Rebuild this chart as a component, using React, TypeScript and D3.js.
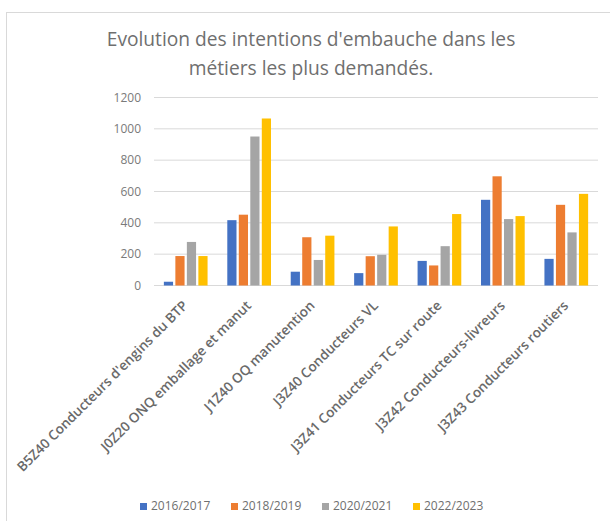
import React from "react";
import * as d3 from "d3";

const categories = [
  "B5Z40 Conducteurs d'engins du BTP",
  "J0Z20 ONQ emballage et manut",
  "J1Z40 OQ manutention",
  "J3Z40 Conducteurs VL",
  "J3Z41 Conducteurs TC sur route",
  "J3Z42 Conducteurs-livreurs",
  "J3Z43 Conducteurs routiers",
];
const seriesNames = ["2016/2017", "2018/2019", "2020/2021", "2022/2023"];
const s2016 = [24, 417, 88, 79, 157, 547, 170];
const s2018 = [188, 452, 308, 187, 128, 697, 515];
const s2020 = [278, 951, 163, 196, 251, 424, 339];
const s2022 = [188, 1066, 318, 377, 456, 443, 585];
const seriesValues = [s2016, s2018, s2020, s2022];
const yTicks = [0, 200, 400, 600, 800, 1000, 1200];
const colors = ["#4472C4", "#ED7D31", "#A5A5A5", "#FFC000"];
const titleLines = [
  "Evolution des intentions d'embauche dans les",
  "métiers les plus demandés.",
];

const FONT = "'Open Sans', sans-serif";

export default function App() {
  const W = 610, H = 521;
  const left = 154, right = 598, top = 97.5, bottom = 285.5;
  const y = d3.scaleLinear().domain([0, 1200]).range([bottom, top]);
  const x0 = d3
    .scaleBand<string>()
    .domain(categories)
    .range([left, right])
    .paddingInner(0.311)
    .paddingOuter(0.1555);
  const x1 = d3
    .scaleBand<string>()
    .domain(seriesNames)
    .range([0, x0.bandwidth()])
    .paddingInner(0.2);

  const legendStart = 140;
  const legendStep = 91;

  return (
    <svg
      width={W}
      height={H}
      style={{ position: "fixed", left: 0, top: 0, background: "#fff" }}
      fontFamily={FONT}
    >
      <rect x={0} y={0} width={W} height={H} fill="#fff" />
      <rect x={6.5} y={12.5} width={640} height={540} fill="#fff" stroke="#d9d9d9" strokeWidth={1} />
      {titleLines.map((t, i) => (
        <text
          key={i}
          x={311}
          y={46 + i * 29}
          textAnchor="middle"
          fontSize={19.2}
          fill="#6f6f6f"
        >
          {t}
        </text>
      ))}
      {yTicks.map((t) => (
        <g key={t}>
          <line x1={left} x2={right} y1={y(t)} y2={y(t)} stroke="#d9d9d9" strokeWidth={1} />
          <text x={141} y={y(t) + 4} textAnchor="end" fontSize={12} fill="#7a7a7a">
            {t}
          </text>
        </g>
      ))}
      {categories.map((c, ci) => (
        <g key={c}>
          {seriesNames.map((s, si) => {
            const v = seriesValues[si][ci];
            return (
              <rect
                key={s}
                x={(x0(c) as number) + (x1(s) as number)}
                y={y(v)}
                width={x1.bandwidth()}
                height={y(0) - y(v)}
                fill={colors[si]}
              />
            );
          })}
          <text
            transform={`translate(${(x0(c) as number) + x0.bandwidth() / 2 + 3},${bottom + 21}) rotate(-45)`}
            textAnchor="end"
            fontSize={13.6}
            fontWeight={600}
            fill="#6a6a6a"
          >
            {c}
          </text>
        </g>
      ))}
      {seriesNames.map((s, si) => (
        <g key={s} transform={`translate(${legendStart + si * legendStep},0)`}>
          <rect x={0} y={503} width={7} height={7} fill={colors[si]} />
          <text x={11} y={510} fontSize={12} fill="#6f6f6f">
            {s}
          </text>
        </g>
      ))}
    </svg>
  );
}
